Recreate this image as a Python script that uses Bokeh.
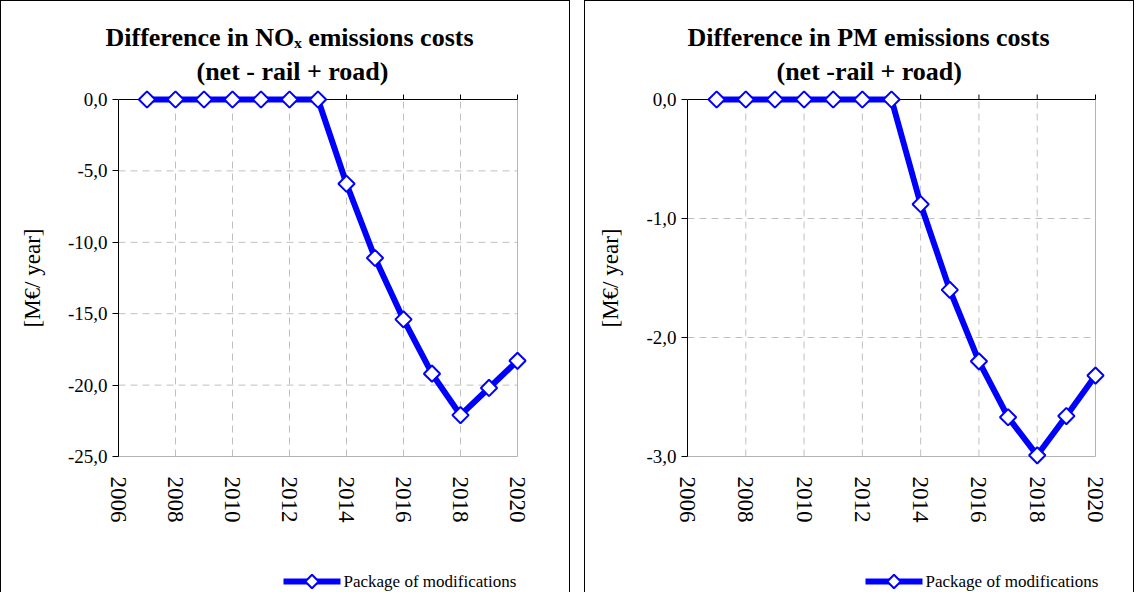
import math
from bokeh.plotting import figure
from bokeh.models import Range1d, LinearAxis, FixedTicker, Title
from bokeh.layouts import row, column
from bokeh.embed import file_html
from bokeh.resources import INLINE
from bokeh.core.properties import value

# ---------------- data ----------------
years = [2007, 2008, 2009, 2010, 2011, 2012, 2013, 2014, 2015, 2016, 2017, 2018, 2019, 2020]
nox_values = [0.0, 0.0, 0.0, 0.0, 0.0, 0.0, 0.0, -5.9, -11.1, -15.4, -19.2, -22.1, -20.2, -18.3]
pm_values = [0.0, 0.0, 0.0, 0.0, 0.0, 0.0, 0.0, -0.88, -1.60, -2.20, -2.67, -2.99, -2.66, -2.32]

x_ticks = [2006, 2008, 2010, 2012, 2014, 2016, 2018, 2020]
nox_ticks = [0, -5, -10, -15, -20, -25]
nox_tick_labels = ["0,0", "-5,0", "-10,0", "-15,0", "-20,0", "-25,0"]
pm_ticks = [0, -1, -2, -3]
pm_tick_labels = ["0,0", "-1,0", "-2,0", "-3,0"]

nox_title = ["Difference in NO\u2093 emissions costs", "(net - rail + road)"]
pm_title = ["Difference in PM emissions costs", "(net -rail + road)"]
y_label = "[M\u20ac/ year]"
series_name = "Package of modifications"

FONT = "Liberation Serif"
BLUE = "#0000FF"
GRID = "#c0c0c0"
EDGE = "#b4b4b4"

FRAME_TOP = 88       # px from top of canvas to top of frame
AXIS_H = 357         # px from y=0 to lowest tick
PAD = 10             # px padding around axes inside frame
MAIN_BOTTOM = 55     # px below frame for the year labels
LEG_H = 70           # height of the legend strip
LEG_CY = 14          # legend centre, px above the strip bottom
GLYPH_W = 57
STANDOFF = 3


def make_panel(values, yticks, ylabels, title_lines, title_offsets, fig_w, frame_left,
               axis_w, legend_x):
    x0, x1 = x_ticks[0], x_ticks[-1]
    ytop, ybot = yticks[0], yticks[-1]
    xpp = (x1 - x0) / axis_w          # data per px (x)
    ypp = (ytop - ybot) / AXIS_H      # data per px (y)
    frame_w = axis_w + PAD
    frame_h = AXIS_H + 2 * PAD
    min_right = fig_w - frame_left - frame_w

    p = figure(frame_width=frame_w, frame_height=frame_h,
               min_border_left=frame_left, min_border_right=min_right,
               min_border_top=FRAME_TOP, min_border_bottom=MAIN_BOTTOM,
               x_range=Range1d(x0, x1 + PAD * xpp),
               y_range=Range1d(ybot - PAD * ypp, ytop + PAD * ypp),
               x_axis_type=None, y_axis_type=None, title_location=None,
               output_backend="svg", toolbar_location=None)
    p.outline_line_color = None
    p.background_fill_color = "white"
    p.border_fill_color = "white"
    p.xgrid.visible = False
    p.ygrid.visible = False

    # titles (second line closest to the plot area)
    for i, (text, off) in enumerate(reversed(list(zip(title_lines, title_offsets)))):
        p.add_layout(Title(text=text, align="left", offset=off,
                           standoff=7 if i == 0 else 0,
                           text_font=FONT, text_font_size="26px", text_font_style="bold",
                           text_color="#000000"), "above")

    # y axis
    yax = LinearAxis(ticker=FixedTicker(ticks=yticks), bounds=(ybot, ytop))
    yax.major_label_overrides = {t: s for t, s in zip(yticks, ylabels)}
    yax.major_label_text_font = FONT
    yax.major_label_text_font_size = "19px"
    yax.major_label_text_color = "#000000"
    yax.major_tick_out = 6
    yax.major_tick_in = 0
    yax.minor_tick_line_color = None
    yax.axis_line_color = "#000000"
    yax.major_tick_line_color = "#000000"
    yax.major_label_standoff = 5
    yax.axis_label = y_label
    yax.axis_label_text_font = FONT
    yax.axis_label_text_font_size = "23px"
    yax.axis_label_text_font_style = "normal"
    yax.axis_label_text_color = "#000000"
    yax.axis_label_standoff = 20
    p.add_layout(yax, "left")

    # x axis (labels only, below)
    xax = LinearAxis(ticker=FixedTicker(ticks=x_ticks))
    xax.major_label_text_font = FONT
    xax.major_label_text_font_size = "23px"
    xax.major_label_text_color = "#000000"
    xax.major_label_orientation = "vertical"
    xax.axis_line_color = None
    xax.major_tick_line_color = None
    xax.minor_tick_line_color = None
    xax.major_label_standoff = 4
    p.add_layout(xax, "below")

    # grid lines (dashed) inside the axis box
    inner_x = x_ticks[1:-1]
    inner_y = yticks[1:-1]
    p.segment(x0=inner_x, y0=[ybot] * len(inner_x), x1=inner_x, y1=[ytop] * len(inner_x),
              line_color=GRID, line_width=1, line_dash="7 5")
    p.segment(x0=[x0] * len(inner_y), y0=inner_y, x1=[x1] * len(inner_y), y1=inner_y,
              line_color=GRID, line_width=1, line_dash="7 5")
    # plot-area border (right and bottom, gray)
    p.segment(x0=[x1, x0], y0=[ybot, ybot], x1=[x1, x1], y1=[ytop, ybot],
              line_color=EDGE, line_width=1)
    # category axis crossing at 0 (top), with upward tick marks
    p.segment(x0=[x0], y0=[ytop], x1=[x1], y1=[ytop], line_color="#000000", line_width=1)
    tx = x_ticks[1:]
    p.segment(x0=tx, y0=[ytop] * len(tx), x1=tx, y1=[ytop + 5 * ypp] * len(tx),
              line_color="#000000", line_width=1)

    # data
    line_style = dict(line_color=BLUE, line_width=6, line_join="round")
    marker_style = dict(marker="square", angle=math.pi / 4,
                        fill_color="white", line_color=BLUE, line_width=2)
    p.line(years, values, **line_style)
    p.scatter(years, values, size=11.5, **marker_style)

    # legend strip below the chart (pixel coordinates relative to the aligned frame)
    lg = figure(frame_width=frame_w, frame_height=LEG_H,
                min_border_left=frame_left, min_border_right=min_right,
                min_border_top=0, min_border_bottom=0,
                x_range=Range1d(0, frame_w), y_range=Range1d(0, LEG_H),
                x_axis_type=None, y_axis_type=None, title_location=None,
                output_backend="svg", toolbar_location=None)
    lg.outline_line_color = None
    lg.xgrid.visible = False
    lg.ygrid.visible = False
    lx = legend_x - frame_left
    lg.segment(x0=[lx], y0=[LEG_CY], x1=[lx + GLYPH_W], y1=[LEG_CY],
               line_color=BLUE, line_width=6)
    lg.scatter([lx + GLYPH_W / 2], [LEG_CY], size=9.5, **marker_style)
    lg.text([lx + GLYPH_W + STANDOFF], [LEG_CY], text=[series_name],
            text_font=value(FONT), text_font_size="17px", text_color="#000000",
            text_align="left", text_baseline="middle")

    col = column(p, lg, spacing=0)
    col.styles = {"border": "1px solid #000000"}
    return col


c1 = make_panel(nox_values, nox_ticks, nox_tick_labels, nox_title, [-13, 78],
                fig_w=568, frame_left=117, axis_w=399, legend_x=282)
c2 = make_panel(pm_values, pm_ticks, pm_tick_labels, pm_title, [0, 89],
                fig_w=548, frame_left=102, axis_w=408, legend_x=280)

layout = row(c1, c2, spacing=14)
open("out.html", "w").write(file_html(layout, INLINE))
